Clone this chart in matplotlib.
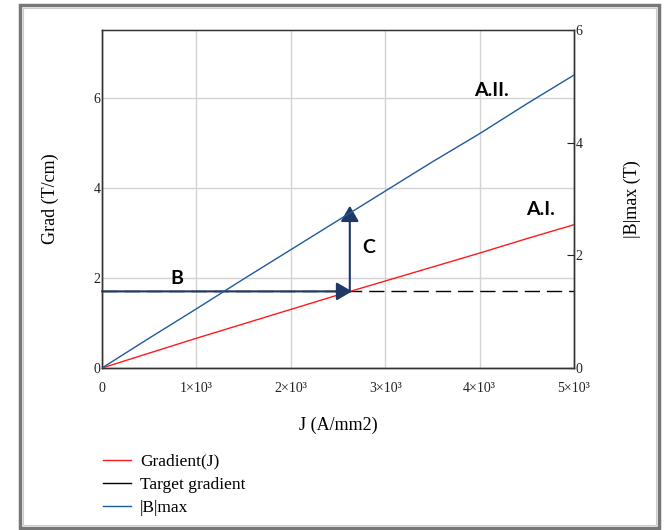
import matplotlib.pyplot as plt
from matplotlib.patches import Rectangle
from matplotlib.lines import Line2D

# current density (A/mm2)
J = [0, 500, 1000, 1500, 2000, 2500, 3000, 3500, 4000, 4500, 5000]
# gradient (T/cm), left axis
grad = [0, 0.33, 0.66, 0.98, 1.30, 1.62, 1.93, 2.24, 2.55, 2.87, 3.18]
# peak field |B|max (T), right axis
bmax = [0, 0.53, 1.05, 1.58, 2.10, 2.62, 3.14, 3.66, 4.16, 4.69, 5.20]
target = 1.7
J_op = 2650
arrow_top = 3.6   # where the vertical arrow stops (left-axis units)

xticks = [0, 1000, 2000, 3000, 4000, 5000]
xlabels = ['0', '1×10³', '2×10³', '3×10³', '4×10³', '5×10³']

plt.rcParams['font.family'] = ['Liberation Serif', 'DejaVu Serif']

fig = plt.figure(figsize=(6.65, 5.3), dpi=100)
ax = fig.add_axes([102 / 665, 1 - 368 / 530, 472 / 665, 338 / 530])
ax2 = ax.twinx()

# grid, limits and ticks
ax.set_xlim(0, 5000)
ax.set_ylim(0, 7.5)
ax2.set_ylim(0, 6)
ax.set_xticks(xticks)
ax.set_xticklabels(xlabels)
ax.set_yticks([0, 2, 4, 6])
ax2.set_yticks([0, 2, 4, 6])
ax.grid(color='#d4d4d4', linewidth=1)
ax.tick_params(axis='both', length=0, labelsize=10, colors='#222222')
ax.tick_params(axis='x', pad=10)
ax.tick_params(axis='y', pad=1)
ax2.tick_params(axis='y', direction='in', length=5, width=0.8, pad=1,
                labelsize=10, colors='#222222')
for a in (ax, ax2):
    for s in a.spines.values():
        s.set_color('#333333')
        s.set_linewidth(1)
ax.spines['top'].set_linewidth(0.8)

# curves
ax.plot([J[0], J[-1]], [target, target], color='black', linewidth=1,
        linestyle=(0, (11, 5)), zorder=2)
ax.plot(J, grad, color='#ff1a1a', linewidth=1, zorder=3)
ax2.plot(J, bmax, color='#1f5a9a', linewidth=1, zorder=3)

# arrows
arrow_c = '#1f3864'
head = '-|>,head_length=0.95,head_width=0.55'
ax.annotate('', xy=(J_op, target), xytext=(0, target),
            arrowprops=dict(arrowstyle=head, color=arrow_c, lw=1.5,
                            shrinkA=0, shrinkB=0), zorder=5)
ax.annotate('', xy=(J_op - 25, arrow_top), xytext=(J_op - 25, target),
            arrowprops=dict(arrowstyle=head, color=arrow_c, lw=1.5,
                            shrinkA=0, shrinkB=0), zorder=5)

# labels on the plot
lab = dict(fontfamily='Lato', fontweight='bold', fontsize=14,
           color='black', ha='center', va='center')
ax.text(790, 1.98, 'B', **lab)
ax.text(2830, 2.67, 'C', **lab)
ax.text(4650, 3.52, 'A.I.', **lab)
ax.text(4130, 6.15, 'A.II.', **lab)

ax.set_ylabel('Grad (T/cm)', fontsize=13, labelpad=25)
ax2.set_ylabel('|B|max (T)', fontsize=13, labelpad=30)
ax.set_xlabel('J (A/mm2)', fontsize=13, labelpad=16)

# legend below the plot
handles = [Line2D([], [], color='#ff1a1a', lw=1),
           Line2D([], [], color='black', lw=1),
           Line2D([], [], color='#1f5a9a', lw=1)]
fig.legend(handles, ['Gradient(J)', 'Target gradient', '|B|max'],
           loc='upper left', bbox_to_anchor=(87 / 665, 1 - 438 / 530),
           frameon=False, fontsize=12.5, handlelength=1.65, handletextpad=0.5,
           labelspacing=0.4)

# outer frame
fig.patches.append(Rectangle((20 / 665, 2 / 530), 639 / 665, 523 / 530,
                             transform=fig.transFigure, fill=False,
                             edgecolor='#777777', linewidth=2.5))
fig.patches.append(Rectangle((23 / 665, 5 / 530), 633 / 665, 517 / 530,
                             transform=fig.transFigure, fill=False,
                             edgecolor='#cccccc', linewidth=0.8))

fig.savefig('out.png', dpi=100)
